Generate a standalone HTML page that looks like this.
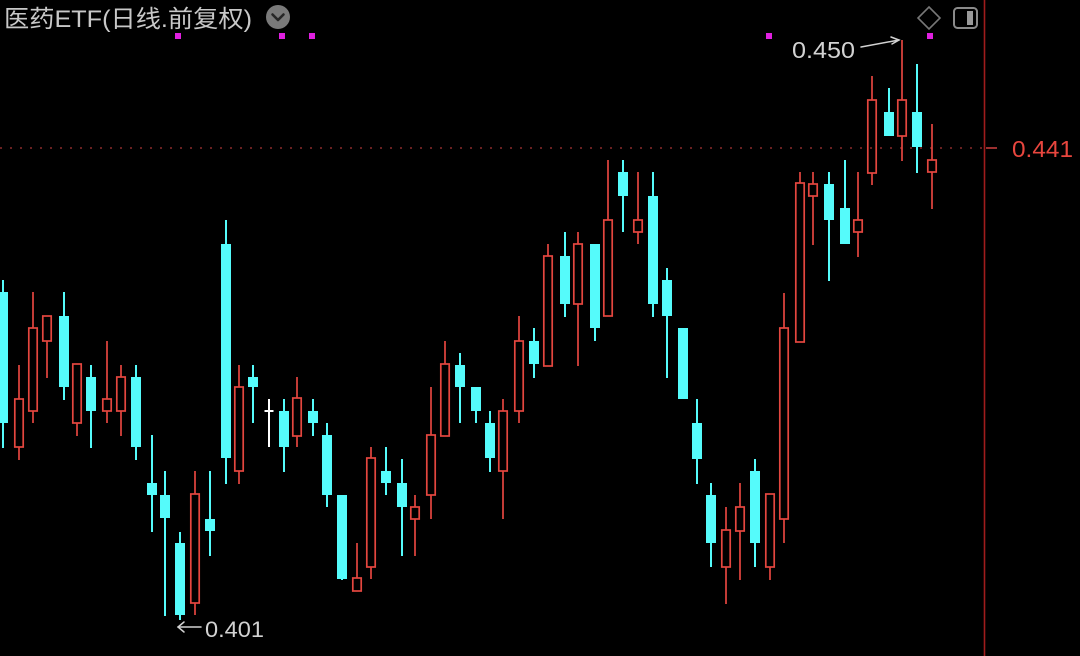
<!DOCTYPE html>
<html>
<head>
<meta charset="utf-8">
<style>
  html,body{margin:0;padding:0;background:#000;}
  body{width:1080px;height:656px;overflow:hidden;}
  svg{display:block;}
  text{font-family:"Liberation Sans","Noto Sans CJK SC",sans-serif;}
</style>
</head>
<body>
<svg width="1080" height="656" viewBox="0 0 1080 656" xmlns="http://www.w3.org/2000/svg">
  <rect x="0" y="0" width="1080" height="656" fill="#000"/>

  <!-- title -->
  <text x="4" y="27" font-size="24" fill="#c8c8c8" textLength="248" lengthAdjust="spacingAndGlyphs">医药ETF(日线.前复权)</text>
  <circle cx="278" cy="17" r="12" fill="#7a7a7a"/>
  <path d="M272.5 14.5 L278 20 L283.5 14.5" fill="none" stroke="#262626" stroke-width="2.6" stroke-linecap="round" stroke-linejoin="round"/>

  <!-- top-right icons -->
  <path d="M929 7 L940 18 L929 29 L918 18 Z" fill="none" stroke="#777" stroke-width="1.6"/>
  <rect x="954" y="8" width="23" height="20" rx="3.5" fill="none" stroke="#8a8a8a" stroke-width="2"/>
  <rect x="967" y="11" width="6" height="14" fill="#9a9a9a"/>

  <!-- magenta markers -->
  <g fill="#e020e0">
    <rect x="175" y="33" width="6" height="6"/>
    <rect x="279" y="33" width="6" height="6"/>
    <rect x="309" y="33" width="6" height="6"/>
    <rect x="766" y="33" width="6" height="6"/>
    <rect x="927" y="33" width="6" height="6"/>
  </g>

  <!-- right axis line -->
  <line x1="984.5" y1="0" x2="984.5" y2="656" stroke="#a01c1c" stroke-width="1.6"/>

  <!-- current price dotted line -->
  <line x1="0" y1="148" x2="984" y2="148" stroke="#8a2a2a" stroke-width="1.5" stroke-dasharray="2 8"/>
  <line x1="986" y1="148" x2="997" y2="148" stroke="#d04040" stroke-width="1.5"/>
  <text x="1012" y="157" font-size="23" fill="#e8463e" textLength="61" lengthAdjust="spacingAndGlyphs">0.441</text>

  <!-- cyan (down) candles -->
  <g stroke="#55fbfb" stroke-width="2">
    <line x1="3" y1="280" x2="3" y2="448"/>
    <line x1="64" y1="292" x2="64" y2="400"/>
    <line x1="91" y1="365" x2="91" y2="448"/>
    <line x1="136" y1="365" x2="136" y2="460"/>
    <line x1="152" y1="435" x2="152" y2="532"/>
    <line x1="165" y1="471" x2="165" y2="616"/>
    <line x1="180" y1="532" x2="180" y2="620"/>
    <line x1="210" y1="471" x2="210" y2="556"/>
    <line x1="226" y1="220" x2="226" y2="484"/>
    <line x1="253" y1="365" x2="253" y2="423"/>
    <line x1="284" y1="399" x2="284" y2="472"/>
    <line x1="313" y1="399" x2="313" y2="436"/>
    <line x1="327" y1="423" x2="327" y2="507"/>
    <line x1="342" y1="495" x2="342" y2="580"/>
    <line x1="386" y1="447" x2="386" y2="495"/>
    <line x1="402" y1="459" x2="402" y2="556"/>
    <line x1="460" y1="353" x2="460" y2="423"/>
    <line x1="476" y1="387" x2="476" y2="423"/>
    <line x1="490" y1="411" x2="490" y2="472"/>
    <line x1="534" y1="328" x2="534" y2="378"/>
    <line x1="565" y1="232" x2="565" y2="317"/>
    <line x1="595" y1="244" x2="595" y2="341"/>
    <line x1="623" y1="160" x2="623" y2="232"/>
    <line x1="653" y1="172" x2="653" y2="317"/>
    <line x1="667" y1="268" x2="667" y2="378"/>
    <line x1="683" y1="328" x2="683" y2="399"/>
    <line x1="697" y1="399" x2="697" y2="484"/>
    <line x1="711" y1="483" x2="711" y2="567"/>
    <line x1="755" y1="459" x2="755" y2="567"/>
    <line x1="829" y1="172" x2="829" y2="281"/>
    <line x1="845" y1="160" x2="845" y2="244"/>
    <line x1="889" y1="88" x2="889" y2="136"/>
    <line x1="917" y1="64" x2="917" y2="173"/>
  </g>
  <g fill="#55fbfb">
    <rect x="-2" y="292" width="10" height="131"/>
    <rect x="59" y="316" width="10" height="71"/>
    <rect x="86" y="377" width="10" height="34"/>
    <rect x="131" y="377" width="10" height="70"/>
    <rect x="147" y="483" width="10" height="12"/>
    <rect x="160" y="495" width="10" height="23"/>
    <rect x="175" y="543" width="10" height="72"/>
    <rect x="205" y="519" width="10" height="12"/>
    <rect x="221" y="244" width="10" height="214"/>
    <rect x="248" y="377" width="10" height="10"/>
    <rect x="279" y="411" width="10" height="36"/>
    <rect x="308" y="411" width="10" height="12"/>
    <rect x="322" y="435" width="10" height="60"/>
    <rect x="337" y="495" width="10" height="84"/>
    <rect x="381" y="471" width="10" height="12"/>
    <rect x="397" y="483" width="10" height="24"/>
    <rect x="455" y="365" width="10" height="22"/>
    <rect x="471" y="387" width="10" height="24"/>
    <rect x="485" y="423" width="10" height="35"/>
    <rect x="529" y="341" width="10" height="23"/>
    <rect x="560" y="256" width="10" height="48"/>
    <rect x="590" y="244" width="10" height="84"/>
    <rect x="618" y="172" width="10" height="24"/>
    <rect x="648" y="196" width="10" height="108"/>
    <rect x="662" y="280" width="10" height="36"/>
    <rect x="678" y="328" width="10" height="71"/>
    <rect x="692" y="423" width="10" height="36"/>
    <rect x="706" y="495" width="10" height="48"/>
    <rect x="750" y="471" width="10" height="72"/>
    <rect x="824" y="184" width="10" height="36"/>
    <rect x="840" y="208" width="10" height="36"/>
    <rect x="884" y="112" width="10" height="24"/>
    <rect x="912" y="112" width="10" height="35"/>
  </g>

  <!-- red (up) hollow candles -->
  <g stroke="#e4463f" stroke-width="1.7" fill="none">
    <!-- 1 -->
    <line x1="19" y1="365" x2="19" y2="399"/><line x1="19" y1="447" x2="19" y2="460"/>
    <rect x="14.8" y="399" width="8.4" height="48"/>
    <!-- 2 -->
    <line x1="33" y1="292" x2="33" y2="328"/><line x1="33" y1="411" x2="33" y2="423"/>
    <rect x="28.8" y="328" width="8.4" height="83"/>
    <!-- 3 -->
    <line x1="47" y1="341" x2="47" y2="378"/>
    <rect x="42.8" y="316" width="8.4" height="25"/>
    <!-- 5 -->
    <line x1="77" y1="423" x2="77" y2="436"/>
    <rect x="72.8" y="364" width="8.4" height="59"/>
    <!-- 7 -->
    <line x1="107" y1="341" x2="107" y2="399"/><line x1="107" y1="411" x2="107" y2="423"/>
    <rect x="102.8" y="399" width="8.4" height="12"/>
    <!-- 8 -->
    <line x1="121" y1="365" x2="121" y2="377"/><line x1="121" y1="411" x2="121" y2="436"/>
    <rect x="116.8" y="377" width="8.4" height="34"/>
    <!-- 13 -->
    <line x1="195" y1="471" x2="195" y2="494"/><line x1="195" y1="603" x2="195" y2="615"/>
    <rect x="190.8" y="494" width="8.4" height="109"/>
    <!-- 16 -->
    <line x1="239" y1="365" x2="239" y2="387"/><line x1="239" y1="471" x2="239" y2="484"/>
    <rect x="234.8" y="387" width="8.4" height="84"/>
    <!-- 20 -->
    <line x1="297" y1="377" x2="297" y2="398"/><line x1="297" y1="436" x2="297" y2="447"/>
    <rect x="292.8" y="398" width="8.4" height="38"/>
    <!-- 24 -->
    <line x1="357" y1="543" x2="357" y2="578"/>
    <rect x="352.8" y="578" width="8.4" height="13"/>
    <!-- 25 -->
    <line x1="371" y1="447" x2="371" y2="458"/><line x1="371" y1="567" x2="371" y2="579"/>
    <rect x="366.8" y="458" width="8.4" height="109"/>
    <!-- 28 -->
    <line x1="415" y1="495" x2="415" y2="507"/><line x1="415" y1="519" x2="415" y2="556"/>
    <rect x="410.8" y="507" width="8.4" height="12"/>
    <!-- 29 -->
    <line x1="431" y1="387" x2="431" y2="435"/><line x1="431" y1="495" x2="431" y2="519"/>
    <rect x="426.8" y="435" width="8.4" height="60"/>
    <!-- 30 -->
    <line x1="445" y1="341" x2="445" y2="364"/>
    <rect x="440.8" y="364" width="8.4" height="72"/>
    <!-- 34 -->
    <line x1="503" y1="399" x2="503" y2="411"/><line x1="503" y1="471" x2="503" y2="519"/>
    <rect x="498.8" y="411" width="8.4" height="60"/>
    <!-- 35 -->
    <line x1="519" y1="316" x2="519" y2="341"/><line x1="519" y1="411" x2="519" y2="423"/>
    <rect x="514.8" y="341" width="8.4" height="70"/>
    <!-- 37 -->
    <line x1="548" y1="244" x2="548" y2="256"/>
    <rect x="543.8" y="256" width="8.4" height="110"/>
    <!-- 39 -->
    <line x1="578" y1="232" x2="578" y2="244"/><line x1="578" y1="304" x2="578" y2="366"/>
    <rect x="573.8" y="244" width="8.4" height="60"/>
    <!-- 41 -->
    <line x1="608" y1="160" x2="608" y2="220"/>
    <rect x="603.8" y="220" width="8.4" height="96"/>
    <!-- 43 -->
    <line x1="638" y1="172" x2="638" y2="220"/><line x1="638" y1="232" x2="638" y2="244"/>
    <rect x="633.8" y="220" width="8.4" height="12"/>
    <!-- 49 -->
    <line x1="726" y1="507" x2="726" y2="530"/><line x1="726" y1="567" x2="726" y2="604"/>
    <rect x="721.8" y="530" width="8.4" height="37"/>
    <!-- 50 -->
    <line x1="740" y1="483" x2="740" y2="507"/><line x1="740" y1="531" x2="740" y2="580"/>
    <rect x="735.8" y="507" width="8.4" height="24"/>
    <!-- 52 -->
    <line x1="770" y1="567" x2="770" y2="580"/>
    <rect x="765.8" y="494" width="8.4" height="73"/>
    <!-- 53 -->
    <line x1="784" y1="293" x2="784" y2="328"/><line x1="784" y1="519" x2="784" y2="543"/>
    <rect x="779.8" y="328" width="8.4" height="191"/>
    <!-- 54 -->
    <line x1="800" y1="172" x2="800" y2="183"/>
    <rect x="795.8" y="183" width="8.4" height="159"/>
    <!-- 55 -->
    <line x1="813" y1="172" x2="813" y2="184"/><line x1="813" y1="196" x2="813" y2="245"/>
    <rect x="808.8" y="184" width="8.4" height="12"/>
    <!-- 58 -->
    <line x1="858" y1="172" x2="858" y2="220"/><line x1="858" y1="232" x2="858" y2="257"/>
    <rect x="853.8" y="220" width="8.4" height="12"/>
    <!-- 59 -->
    <line x1="872" y1="76" x2="872" y2="100"/><line x1="872" y1="173" x2="872" y2="185"/>
    <rect x="867.8" y="100" width="8.4" height="73"/>
    <!-- 61 -->
    <line x1="902" y1="40" x2="902" y2="100"/><line x1="902" y1="136" x2="902" y2="161"/>
    <rect x="897.8" y="100" width="8.4" height="36"/>
    <!-- 63 -->
    <line x1="932" y1="124" x2="932" y2="160"/><line x1="932" y1="172" x2="932" y2="209"/>
    <rect x="927.8" y="160" width="8.4" height="12"/>
  </g>

  <!-- white doji -->
  <g stroke="#ffffff" stroke-width="2">
    <line x1="269" y1="399" x2="269" y2="447"/>
    <line x1="264.5" y1="411" x2="273.5" y2="411"/>
  </g>

  <!-- high label -->
  <text x="792" y="58" font-size="23" fill="#d2d2d2" textLength="63" lengthAdjust="spacingAndGlyphs">0.450</text>
  <g stroke="#d2d2d2" stroke-width="1.5" fill="none" stroke-linecap="round">
    <line x1="861" y1="47" x2="899" y2="40"/>
    <path d="M891 37 L899 40 L892 44"/>
  </g>

  <!-- low label -->
  <text x="205" y="637" font-size="22" fill="#d2d2d2" textLength="59" lengthAdjust="spacingAndGlyphs">0.401</text>
  <g stroke="#d2d2d2" stroke-width="1.5" fill="none" stroke-linecap="round">
    <line x1="178" y1="627" x2="201" y2="627"/>
    <path d="M184 622 L178 627 L184 632"/>
  </g>
</svg>
</body>
</html>
